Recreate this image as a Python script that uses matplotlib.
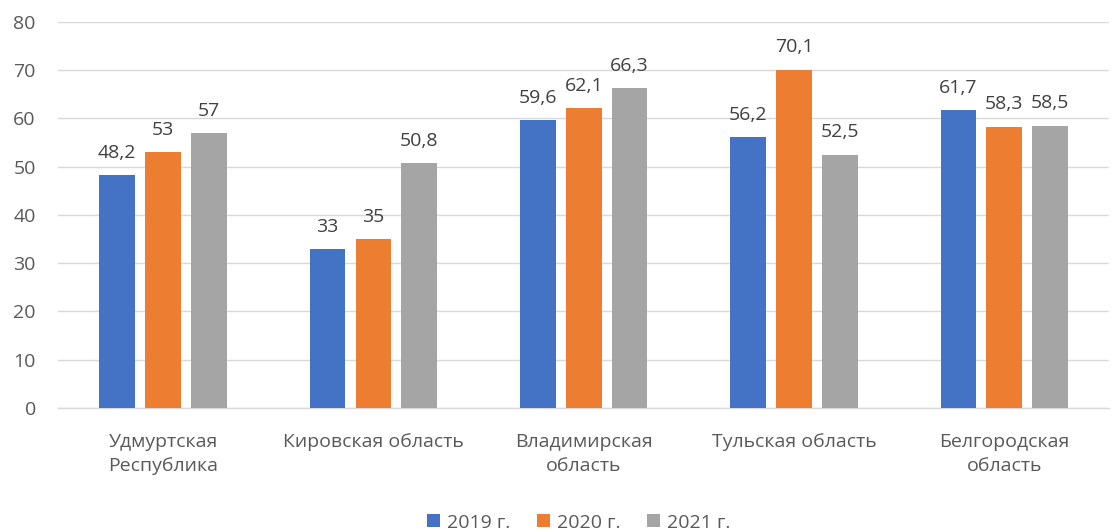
import matplotlib
matplotlib.use("Agg")
import matplotlib.pyplot as plt
import numpy as np

CATEGORIES = ["Удмуртская\nРеспублика", "Кировская область", "Владимирская\nобласть",
              "Тульская область", "Белгородская\nобласть"]
SERIES = ["2019 г.", "2020 г.", "2021 г."]
VALUES_2019 = [48.2, 33, 59.6, 56.2, 61.7]
VALUES_2020 = [53, 35, 62.1, 70.1, 58.3]
VALUES_2021 = [57, 50.8, 66.3, 52.5, 58.5]
LABELS_2019 = ["48,2", "33", "59,6", "56,2", "61,7"]
LABELS_2020 = ["53", "35", "62,1", "70,1", "58,3"]
LABELS_2021 = ["57", "50,8", "66,3", "52,5", "58,5"]
Y_TICKS = [0, 10, 20, 30, 40, 50, 60, 70, 80]

COLORS = ["#4472C4", "#ED7D31", "#A5A5A5"]
TEXT = "#595959"
FS = 14

plt.rcParams["font.family"] = ["Open Sans", "DejaVu Sans"]

fig = plt.figure(figsize=(11.15, 5.32), dpi=100)
ax = fig.add_axes([0.052, 0.233, 0.943, 0.726])

x = np.arange(len(CATEGORIES))
width = 0.17
gap = 0.218
series_vals = [VALUES_2019, VALUES_2020, VALUES_2021]
series_lbls = [LABELS_2019, LABELS_2020, LABELS_2021]

for i, (vals, lbls, name, color) in enumerate(zip(series_vals, series_lbls, SERIES, COLORS)):
    pos = x + (i - 1) * gap
    bars = ax.bar(pos, vals, width=width, color=color, label=name, zorder=3)
    for bar, lbl in zip(bars, lbls):
        ax.text(bar.get_x() + bar.get_width() / 2, bar.get_height() + 5.0, lbl,
                ha="center", va="center_baseline", fontsize=FS, color="#404040")

ax.set_xlim(-0.5, len(CATEGORIES) - 0.5)
ax.set_ylim(0, 80)
ax.set_yticks(Y_TICKS)
ax.set_xticks(x)
ax.set_xticklabels(CATEGORIES, fontsize=FS, color=TEXT, linespacing=1.45)
ax.tick_params(axis="y", labelsize=FS, colors=TEXT, length=0, pad=16)
ax.tick_params(axis="x", length=0, pad=18)
ax.grid(axis="y", color="#D9D9D9", linewidth=1, zorder=0)
for side in ["top", "right", "left"]:
    ax.spines[side].set_visible(False)
ax.spines["bottom"].set_color("#D9D9D9")
ax.spines["bottom"].set_linewidth(1)

fig.legend(loc="lower center", bbox_to_anchor=(0.519, -0.032), ncol=3, frameon=False,
           fontsize=FS, labelcolor=TEXT, handlelength=0.65, handleheight=0.65,
           handletextpad=0.35, columnspacing=1.4)

fig.savefig("out.png", dpi=100)
